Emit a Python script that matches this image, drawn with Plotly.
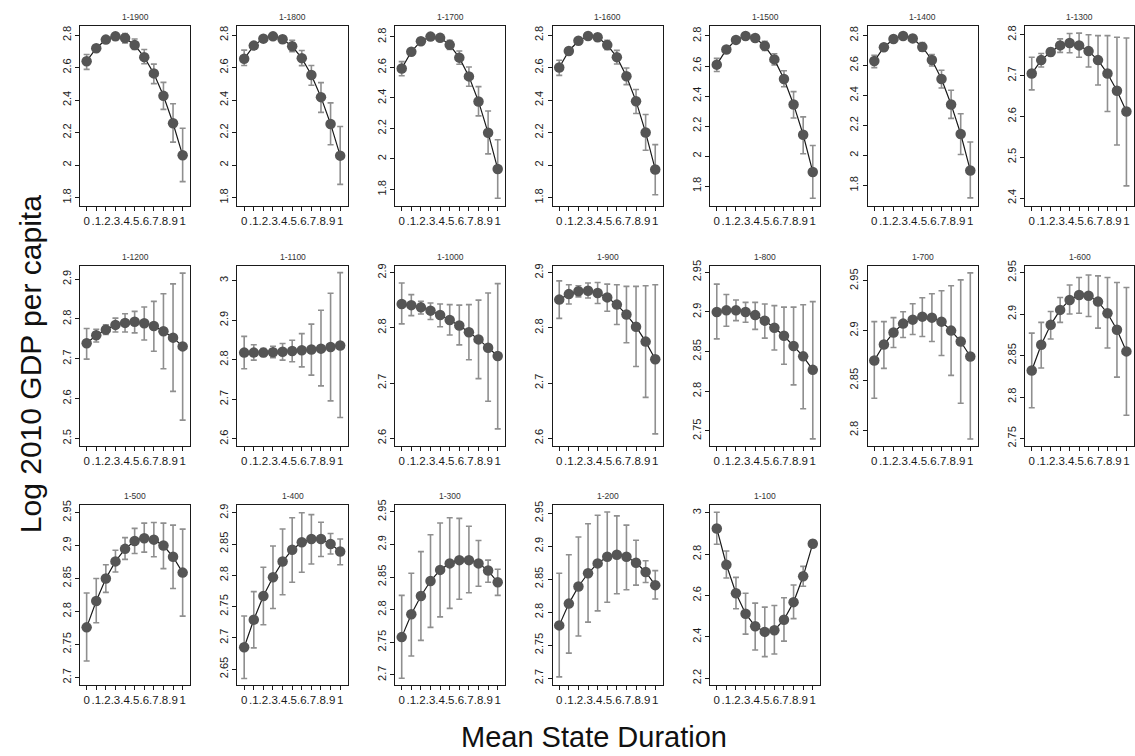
import plotly.graph_objects as go

#%% Data (estimate, lower CI, upper CI per window)

durations = [0, .1, .2, .3, .4, .5, .6, .7, .8, .9, 1]
duration_labels = ['0', '.1', '.2', '.3', '.4', '.5', '.6', '.7', '.8', '.9', '1']

est_1900 = [2.639, 2.719, 2.772, 2.792, 2.782, 2.739, 2.664, 2.564, 2.426, 2.257, 2.060]
lo_1900 = [2.589, 2.703, 2.758, 2.772, 2.751, 2.711, 2.623, 2.501, 2.343, 2.141, 1.898]
hi_1900 = [2.680, 2.736, 2.786, 2.812, 2.810, 2.776, 2.711, 2.621, 2.509, 2.377, 2.227]

est_1800 = [2.654, 2.735, 2.778, 2.792, 2.774, 2.731, 2.658, 2.554, 2.418, 2.253, 2.058]
lo_1800 = [2.613, 2.718, 2.764, 2.774, 2.752, 2.697, 2.612, 2.491, 2.324, 2.125, 1.881]
hi_1800 = [2.707, 2.752, 2.792, 2.810, 2.796, 2.768, 2.705, 2.613, 2.507, 2.383, 2.237]

est_1700 = [2.593, 2.703, 2.772, 2.802, 2.794, 2.748, 2.664, 2.541, 2.377, 2.171, 1.934]
lo_1700 = [2.545, 2.685, 2.757, 2.785, 2.773, 2.718, 2.621, 2.476, 2.282, 2.033, 1.742]
hi_1700 = [2.638, 2.721, 2.787, 2.819, 2.816, 2.778, 2.708, 2.603, 2.474, 2.314, 2.126]

est_1600 = [2.600, 2.702, 2.765, 2.794, 2.786, 2.739, 2.664, 2.546, 2.393, 2.200, 1.973]
lo_1600 = [2.552, 2.684, 2.750, 2.777, 2.766, 2.710, 2.622, 2.495, 2.317, 2.091, 1.817]
hi_1600 = [2.645, 2.720, 2.780, 2.811, 2.806, 2.768, 2.706, 2.597, 2.465, 2.311, 2.126]

est_1500 = [2.609, 2.710, 2.774, 2.800, 2.787, 2.734, 2.644, 2.513, 2.344, 2.142, 1.894]
lo_1500 = [2.563, 2.693, 2.759, 2.783, 2.766, 2.704, 2.607, 2.462, 2.254, 2.015, 1.719]
hi_1500 = [2.651, 2.727, 2.789, 2.817, 2.808, 2.764, 2.682, 2.568, 2.429, 2.261, 2.070]

est_1400 = [2.629, 2.721, 2.776, 2.796, 2.780, 2.723, 2.636, 2.509, 2.340, 2.143, 1.900]
lo_1400 = [2.585, 2.704, 2.761, 2.779, 2.759, 2.694, 2.596, 2.449, 2.247, 2.006, 1.717]
hi_1400 = [2.668, 2.738, 2.791, 2.813, 2.801, 2.752, 2.673, 2.568, 2.434, 2.278, 2.090]

est_1300 = [2.705, 2.738, 2.758, 2.774, 2.780, 2.774, 2.760, 2.738, 2.705, 2.663, 2.612]
lo_1300 = [2.665, 2.721, 2.749, 2.757, 2.756, 2.745, 2.721, 2.677, 2.612, 2.530, 2.430]
hi_1300 = [2.745, 2.754, 2.767, 2.790, 2.803, 2.804, 2.800, 2.798, 2.798, 2.794, 2.792]

est_1200 = [2.739, 2.759, 2.773, 2.785, 2.790, 2.793, 2.789, 2.782, 2.769, 2.753, 2.731]
lo_1200 = [2.699, 2.742, 2.761, 2.767, 2.767, 2.765, 2.747, 2.719, 2.675, 2.618, 2.546]
hi_1200 = [2.776, 2.774, 2.785, 2.802, 2.813, 2.819, 2.830, 2.844, 2.863, 2.888, 2.915]

est_1100 = [2.818, 2.818, 2.818, 2.819, 2.820, 2.822, 2.824, 2.826, 2.828, 2.832, 2.836]
lo_1100 = [2.777, 2.799, 2.808, 2.805, 2.799, 2.795, 2.782, 2.761, 2.734, 2.696, 2.654]
hi_1100 = [2.859, 2.838, 2.828, 2.834, 2.841, 2.849, 2.866, 2.890, 2.925, 2.968, 3.020]

est_1000 = [2.843, 2.841, 2.837, 2.831, 2.823, 2.814, 2.804, 2.792, 2.779, 2.764, 2.749]
lo_1000 = [2.807, 2.822, 2.825, 2.815, 2.802, 2.787, 2.769, 2.742, 2.708, 2.667, 2.617]
hi_1000 = [2.881, 2.860, 2.848, 2.845, 2.843, 2.842, 2.841, 2.842, 2.850, 2.863, 2.880]

est_900 = [2.851, 2.861, 2.866, 2.867, 2.863, 2.855, 2.842, 2.824, 2.802, 2.775, 2.743]
lo_900 = [2.817, 2.843, 2.856, 2.854, 2.844, 2.830, 2.806, 2.773, 2.730, 2.674, 2.608]
hi_900 = [2.885, 2.878, 2.876, 2.881, 2.882, 2.879, 2.878, 2.875, 2.875, 2.876, 2.878]

est_800 = [2.900, 2.902, 2.902, 2.900, 2.896, 2.889, 2.880, 2.870, 2.857, 2.844, 2.827]
lo_800 = [2.866, 2.882, 2.889, 2.887, 2.878, 2.867, 2.852, 2.834, 2.808, 2.778, 2.740]
hi_800 = [2.935, 2.922, 2.915, 2.912, 2.912, 2.910, 2.908, 2.906, 2.906, 2.909, 2.913]

est_700 = [2.870, 2.886, 2.898, 2.907, 2.911, 2.914, 2.913, 2.909, 2.900, 2.889, 2.874]
lo_700 = [2.832, 2.862, 2.883, 2.893, 2.896, 2.894, 2.889, 2.875, 2.855, 2.827, 2.791]
hi_700 = [2.909, 2.909, 2.913, 2.919, 2.927, 2.933, 2.937, 2.940, 2.945, 2.951, 2.958]

est_600 = [2.832, 2.863, 2.887, 2.905, 2.917, 2.923, 2.922, 2.915, 2.901, 2.881, 2.855]
lo_600 = [2.787, 2.835, 2.870, 2.890, 2.900, 2.901, 2.897, 2.883, 2.859, 2.824, 2.778]
hi_600 = [2.877, 2.890, 2.903, 2.920, 2.935, 2.944, 2.947, 2.946, 2.944, 2.938, 2.932]

est_500 = [2.776, 2.816, 2.850, 2.876, 2.895, 2.907, 2.911, 2.909, 2.900, 2.883, 2.859]
lo_500 = [2.725, 2.783, 2.829, 2.860, 2.879, 2.888, 2.890, 2.883, 2.865, 2.835, 2.793]
hi_500 = [2.828, 2.850, 2.871, 2.893, 2.912, 2.926, 2.934, 2.935, 2.934, 2.931, 2.925]

est_400 = [2.685, 2.729, 2.767, 2.797, 2.822, 2.841, 2.853, 2.858, 2.858, 2.850, 2.838]
lo_400 = [2.635, 2.684, 2.721, 2.747, 2.769, 2.789, 2.805, 2.818, 2.830, 2.834, 2.817]
hi_400 = [2.735, 2.774, 2.813, 2.847, 2.874, 2.892, 2.900, 2.897, 2.885, 2.867, 2.858]

est_300 = [2.758, 2.793, 2.821, 2.844, 2.861, 2.871, 2.876, 2.876, 2.871, 2.860, 2.842]
lo_300 = [2.695, 2.729, 2.753, 2.773, 2.789, 2.802, 2.816, 2.826, 2.836, 2.842, 2.822]
hi_300 = [2.822, 2.856, 2.889, 2.915, 2.933, 2.941, 2.940, 2.928, 2.906, 2.876, 2.862]

est_200 = [2.780, 2.813, 2.839, 2.859, 2.874, 2.884, 2.887, 2.884, 2.875, 2.861, 2.841]
lo_200 = [2.702, 2.738, 2.764, 2.785, 2.802, 2.815, 2.828, 2.834, 2.841, 2.845, 2.820]
hi_200 = [2.859, 2.887, 2.914, 2.934, 2.947, 2.952, 2.946, 2.932, 2.909, 2.878, 2.863]

est_100 = [2.925, 2.749, 2.611, 2.512, 2.451, 2.424, 2.432, 2.483, 2.568, 2.693, 2.851]
lo_100 = [2.848, 2.685, 2.536, 2.413, 2.336, 2.304, 2.317, 2.379, 2.488, 2.645, 2.835]
hi_100 = [3.003, 2.816, 2.688, 2.611, 2.563, 2.544, 2.552, 2.589, 2.651, 2.741, 2.867]

panel_titles = ['1-1900', '1-1800', '1-1700', '1-1600', '1-1500', '1-1400', '1-1300',
                '1-1200', '1-1100', '1-1000', '1-900', '1-800', '1-700', '1-600',
                '1-500', '1-400', '1-300', '1-200', '1-100']
panel_est = [est_1900, est_1800, est_1700, est_1600, est_1500, est_1400, est_1300,
             est_1200, est_1100, est_1000, est_900, est_800, est_700, est_600,
             est_500, est_400, est_300, est_200, est_100]
panel_lo = [lo_1900, lo_1800, lo_1700, lo_1600, lo_1500, lo_1400, lo_1300,
            lo_1200, lo_1100, lo_1000, lo_900, lo_800, lo_700, lo_600,
            lo_500, lo_400, lo_300, lo_200, lo_100]
panel_hi = [hi_1900, hi_1800, hi_1700, hi_1600, hi_1500, hi_1400, hi_1300,
            hi_1200, hi_1100, hi_1000, hi_900, hi_800, hi_700, hi_600,
            hi_500, hi_400, hi_300, hi_200, hi_100]

#%% Axis settings per panel (range, tick step)

y_ranges = [[1.749, 2.857], [1.749, 2.857], [1.692, 2.873], [1.749, 2.857],
            [1.668, 2.868], [1.664, 2.864], [2.381, 2.822],
            [2.481, 2.933], [2.582, 3.037], [2.586, 2.912], [2.586, 2.912],
            [2.731, 2.958], [2.784, 2.965], [2.741, 2.958],
            [2.689, 2.962], [2.625, 2.913], [2.685, 2.961], [2.690, 2.963],
            [2.168, 3.040]]
y_steps = [.2, .2, .2, .2, .2, .2, .1,
           .1, .1, .1, .1, .05, .05, .05,
           .05, .05, .05, .05, .2]

#%% Layout geometry (pixels)

W, H = 1135, 756
col_left0 = 80
col_step = 157.67
panel_w = 110.5
row_tops = [20, 262.7, 504]
panel_h = 182

font_family = 'Liberation Sans, Arial, sans-serif'
ink = '#1a1a1a'

fig = go.Figure()
axes_layout = {}
annotations = []

for i, title in enumerate(panel_titles):
    r, c = divmod(i, 7)
    n = i + 1
    sfx = '' if n == 1 else str(n)
    est, lo, hi = panel_est[i], panel_lo[i], panel_hi[i]

    fig.add_trace(go.Scatter(
        x=durations, y=est,
        mode='lines+markers',
        xaxis='x' + sfx, yaxis='y' + sfx,
        line=dict(color=ink, width=1.2),
        marker=dict(size=10.5, color='#555555', line=dict(width=0)),
        error_y=dict(type='data', symmetric=False,
                     array=[h - e for h, e in zip(hi, est)],
                     arrayminus=[e - l for e, l in zip(est, lo)],
                     color='#8f8f8f', thickness=1.6, width=3),
        showlegend=False,
    ))

    left = col_left0 + col_step * c
    x0 = left / W
    x1 = min(left + panel_w, W) / W
    y1 = 1 - row_tops[r] / H
    y0 = 1 - (row_tops[r] + panel_h) / H

    axes_layout['xaxis' + sfx] = dict(
        domain=[x0, x1], anchor='y' + sfx, range=[-0.07, 1.08],
        tickvals=durations, ticktext=duration_labels, tickangle=0,
        ticks='outside', ticklen=4, tickcolor=ink, tickwidth=1,
        showline=True, mirror=True, linecolor=ink, linewidth=1,
        showgrid=False, zeroline=False,
        tickfont=dict(family=font_family, size=11.5, color=ink),
    )
    axes_layout['yaxis' + sfx] = dict(
        domain=[y0, y1], anchor='x' + sfx, range=y_ranges[i],
        tick0=0, dtick=y_steps[i], tickangle=-90,
        ticks='outside', ticklen=4, tickcolor=ink, tickwidth=1,
        showline=True, mirror=True, linecolor=ink, linewidth=1,
        showgrid=False, zeroline=False,
        tickfont=dict(family=font_family, size=11, color=ink),
    )

    annotations.append(dict(
        text=title, xref='paper', yref='paper',
        x=(x0 + x1) / 2, y=y1, xanchor='center', yanchor='bottom', yshift=2,
        showarrow=False, font=dict(family=font_family, size=8.5, color='#333333'),
    ))

annotations.append(dict(
    text='Log 2010 GDP per capita', xref='paper', yref='paper',
    x=30 / W, y=1 - 362 / H, xanchor='center', yanchor='middle', textangle=-90,
    showarrow=False, font=dict(family=font_family, size=30, color='#111111'),
))
annotations.append(dict(
    text='Mean State Duration', xref='paper', yref='paper',
    x=595 / W, y=1 - 739 / H, xanchor='center', yanchor='middle',
    showarrow=False, font=dict(family=font_family, size=29, color='#111111'),
))

fig.update_layout(
    width=W, height=H, autosize=False,
    margin=dict(l=0, r=0, t=0, b=0),
    paper_bgcolor='white', plot_bgcolor='white',
    annotations=annotations,
    **axes_layout
)

# page body has a default margin; drop it so the figure sits at the window corner
fig.write_html("out.html", config={'displayModeBar': False},
               post_script="document.body.style.margin='0';")
